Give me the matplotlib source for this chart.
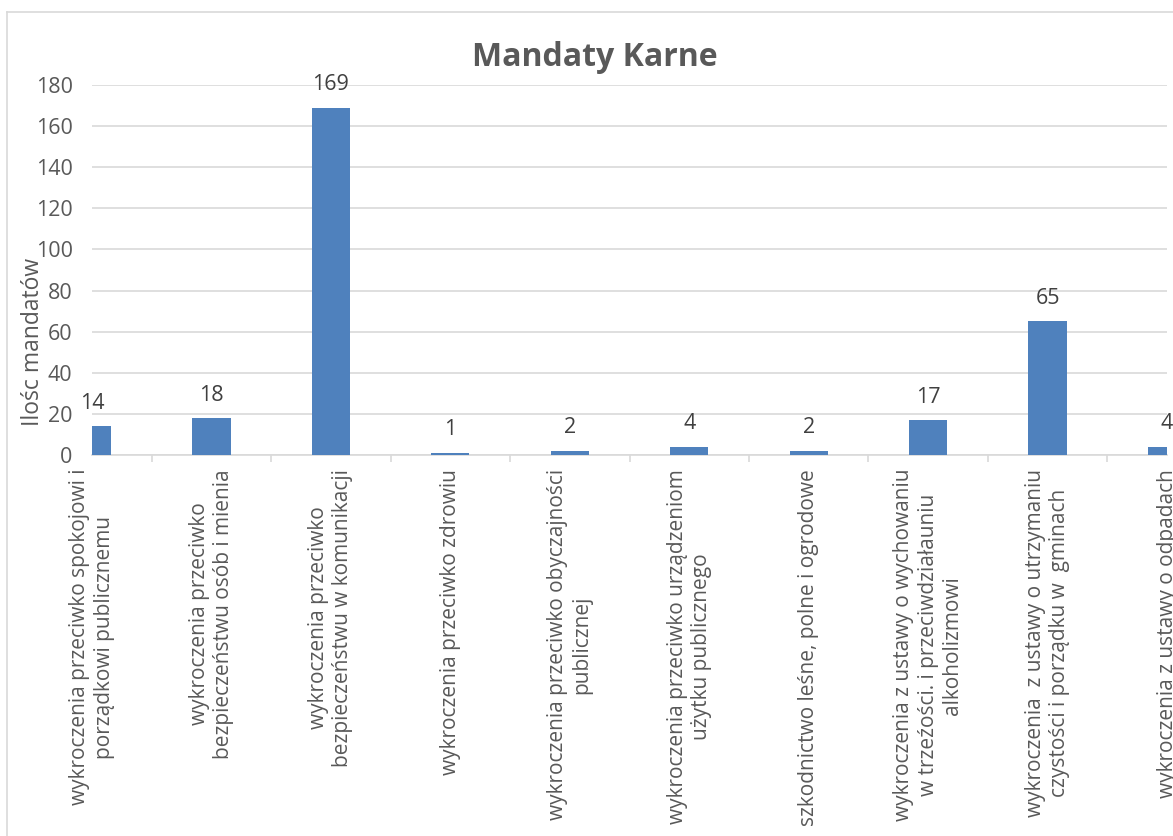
import matplotlib
matplotlib.use("Agg")
import matplotlib.pyplot as plt
from matplotlib.lines import Line2D

plt.rcParams['font.family'] = ['Open Sans', 'DejaVu Sans']

categories = [
    "wykroczenia przeciwko spokojowi i\nporządkowi publicznemu",
    "wykroczenia przeciwko\nbezpieczeństwu osób i mienia",
    "wykroczenia przeciwko\nbezpieczeństwu w komunikacji",
    "wykroczenia przeciwko zdrowiu",
    "wykroczenia przeciwko obyczajności\npublicznej",
    "wykroczenia przeciwko urządzeniom\nużytku publicznego",
    "szkodnictwo leśne, polne i ogrodowe",
    "wykroczenia z ustawy o wychowaniu\nw trzeźości. i przeciwdziałauniu\nalkoholizmowi",
    "wykroczenia  z ustawy o utrzymaniu\nczystości i porządku w  gminach",
    "wykroczenia z ustawy o odpadach",
]
values = [14, 18, 169, 1, 2, 4, 2, 17, 65, 4]
y_ticks = [0, 20, 40, 60, 80, 100, 120, 140, 160, 180]

title = "Mandaty Karne"
ylabel = "Ilośc mandatów"

W, H = 1173, 836
fig = plt.figure(figsize=(W / 100, H / 100), dpi=100)
ax = fig.add_axes([92 / W, 1 - 455 / H, (1167 - 92) / W, (455 - 85) / H])

grid_c = "#d9d9d9"
text_c = "#595959"
bar_c = "#4f81bd"

x = list(range(len(values)))
bars = ax.bar(x, values, width=0.32, color=bar_c, zorder=3)
ax.set_xlim(0, len(values) - 1)
ax.set_ylim(0, 180)
ax.set_yticks(y_ticks)
ax.yaxis.grid(True, color=grid_c, linewidth=1.2, zorder=0)
ax.set_axisbelow(True)
for s in ["top", "right", "left"]:
    ax.spines[s].set_visible(False)
ax.spines["bottom"].set_color(grid_c)
ax.spines["bottom"].set_linewidth(1.2)

ax.tick_params(axis="y", length=0, pad=14, labelsize=15.5, labelcolor=text_c)
ax.set_xticks(x)
ax.set_xticklabels(categories, rotation=90, ha="center", va="top",
                   multialignment="center", fontsize=15, color=text_c)
ax.tick_params(axis="x", which="major", length=0, pad=10)
ax.set_xticks([i + 0.5 for i in x[:-1]], minor=True)
ax.tick_params(axis="x", which="minor", length=5, width=1.2, color=grid_c)

for xi, v in zip(x, values):
    ax.annotate(str(v), (xi, v), xytext=(0, 9), textcoords="offset points",
                ha="center", va="bottom", fontsize=15.5, color="#404040",
                annotation_clip=False)

fig.text(595 / W, 1 - 58 / H, title, ha="center", va="center",
         fontsize=23, fontweight="bold", color=text_c)
fig.text(33 / W, 1 - 342 / H, ylabel, ha="center", va="center",
         rotation=90, fontsize=16.5, color=text_c)

fig.add_artist(Line2D([7 / W, 7 / W], [0, 1 - 12 / H], transform=fig.transFigure,
                      color=grid_c, linewidth=1.2))
fig.add_artist(Line2D([7 / W, 1], [1 - 12 / H, 1 - 12 / H], transform=fig.transFigure,
                      color=grid_c, linewidth=1.2))

fig.savefig("out.png", dpi=100)
